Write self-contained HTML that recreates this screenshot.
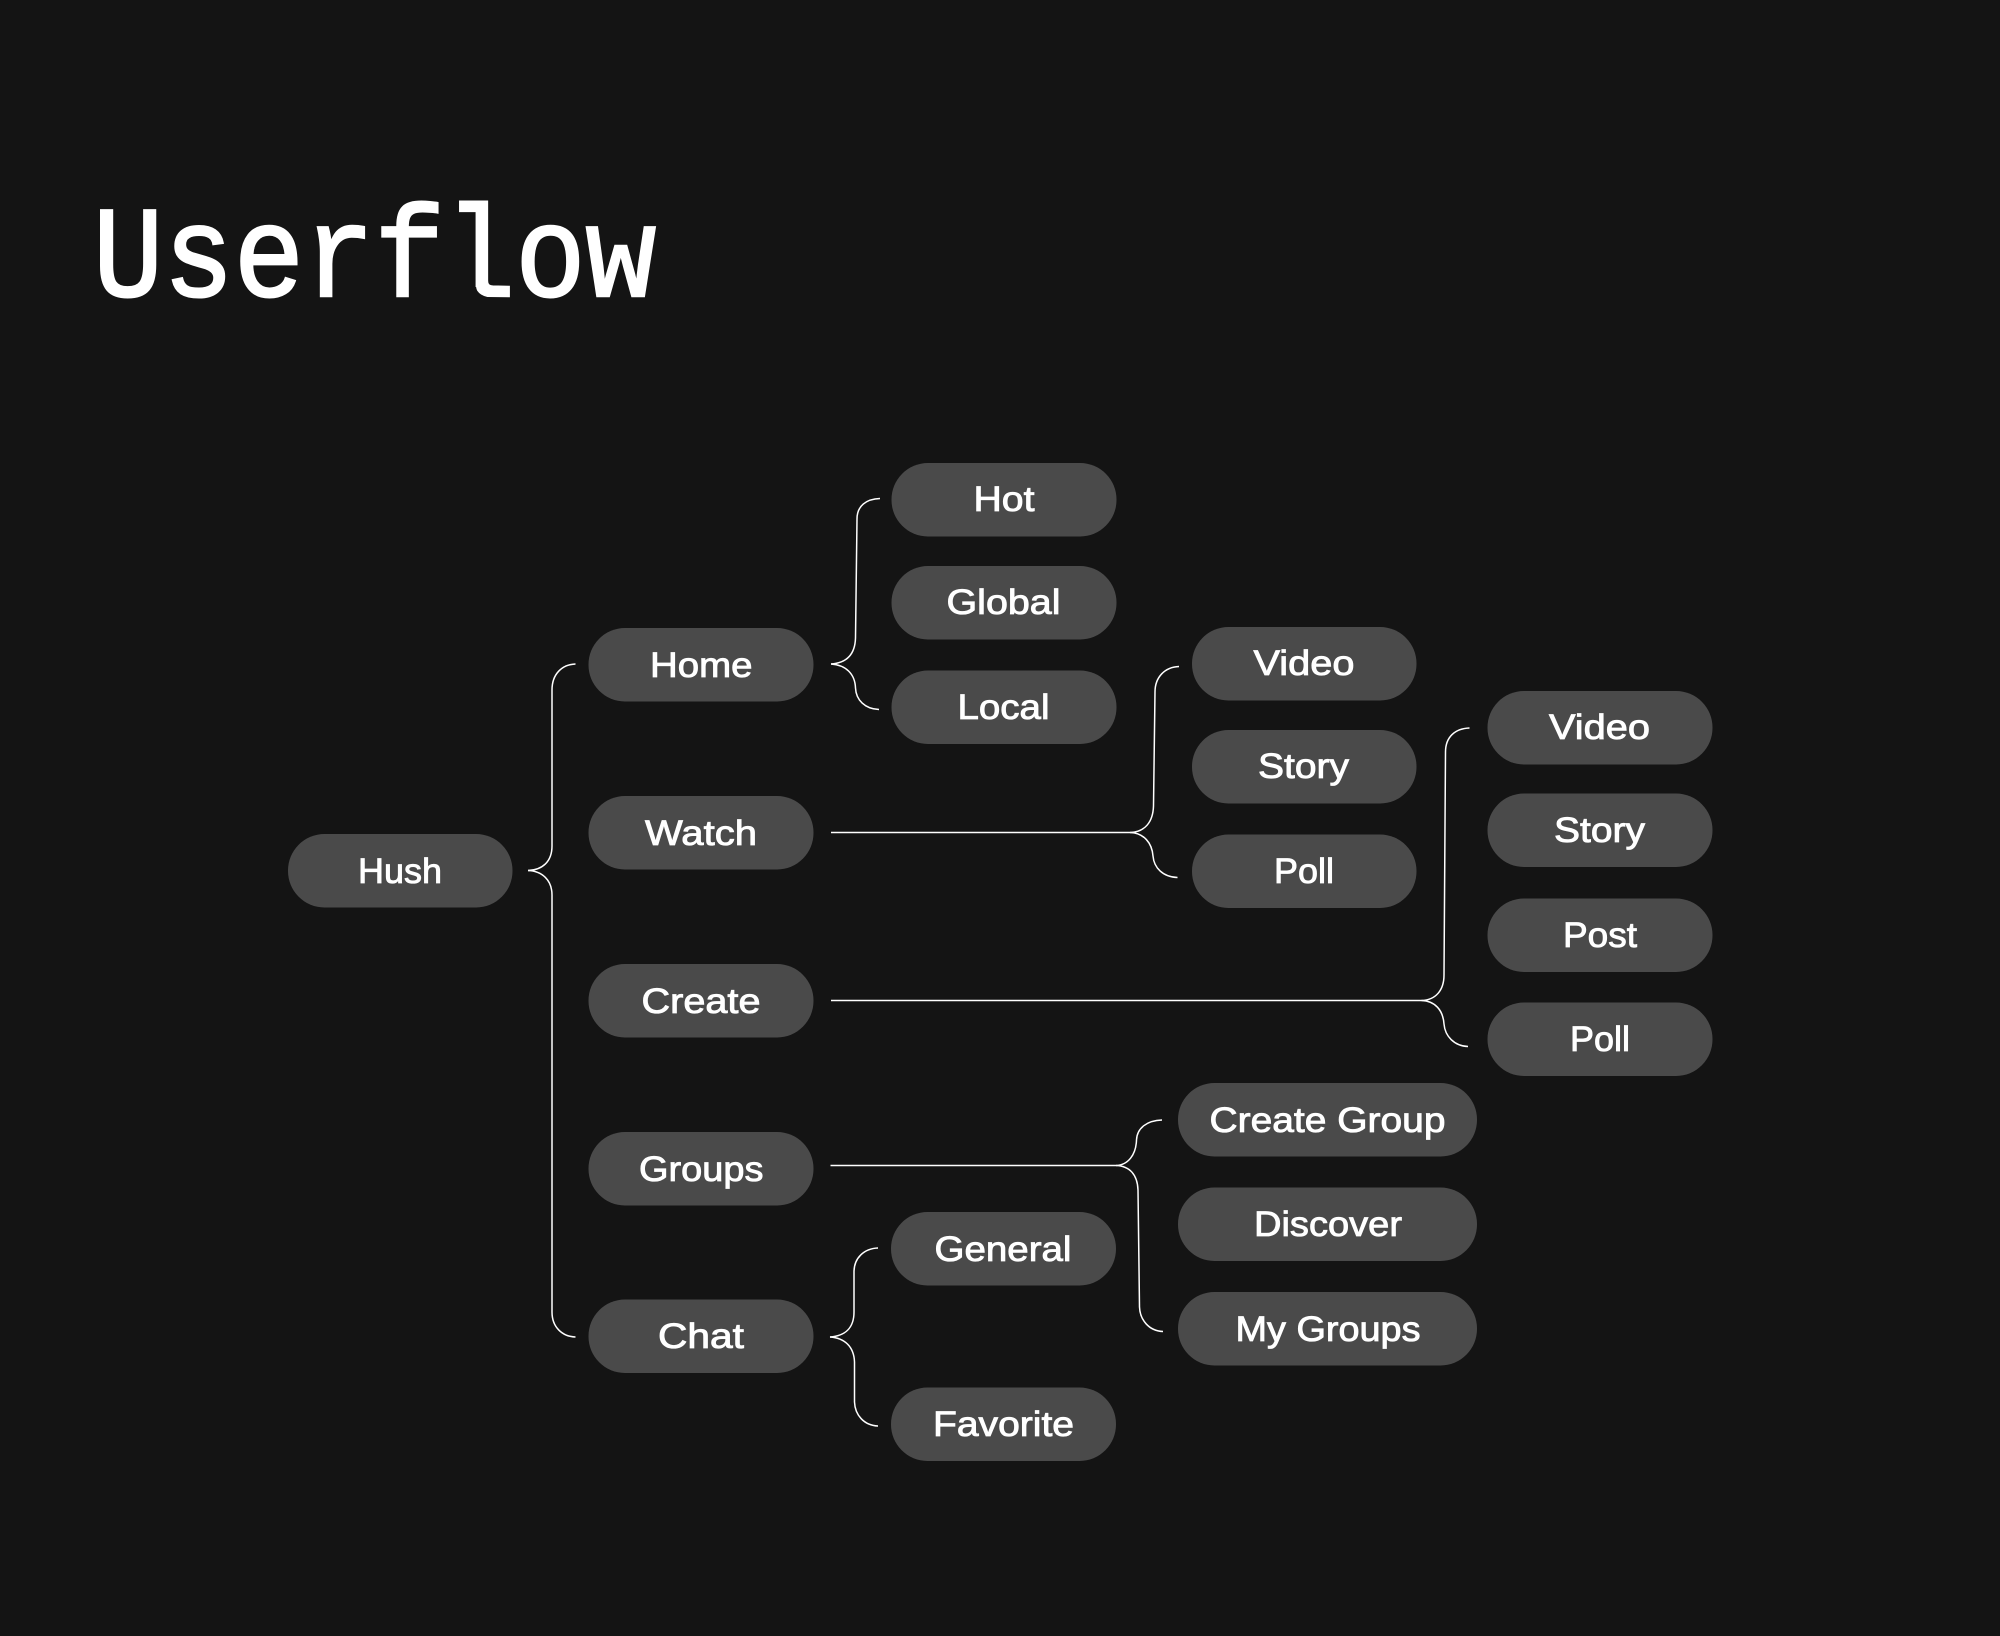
<!DOCTYPE html>
<html><head><meta charset="utf-8"><style>
html,body{margin:0;padding:0;background:#141414;width:2000px;height:1636px;overflow:hidden}
svg{display:block}
.p{fill:#4a4a4a}
.t{font-family:"Liberation Sans",sans-serif;font-size:35px;fill:#fff;stroke:#fff;stroke-width:.85px}
.c{fill:none;stroke:#fff;stroke-width:1.5}
</style></head><body>
<svg width="2000" height="1636" viewBox="0 0 2000 1636" xmlns="http://www.w3.org/2000/svg">
<rect width="2000" height="1636" fill="#141414"/>
<text x="93" y="296" font-family="'Liberation Mono',monospace" font-size="130" fill="#fff" stroke="#fff" stroke-width="2.5" textLength="563" lengthAdjust="spacingAndGlyphs">Userflow</text>

<g>
<rect class="p" x="288" y="834" width="224.500" height="73.500" rx="36.500"/>
<rect class="p" x="588.500" y="628" width="225" height="73.500" rx="36.500"/>
<rect class="p" x="588.500" y="796" width="225" height="73.500" rx="36.500"/>
<rect class="p" x="588.500" y="964" width="225" height="73.500" rx="36.500"/>
<rect class="p" x="588.500" y="1132" width="225" height="73.500" rx="36.500"/>
<rect class="p" x="588.500" y="1299.500" width="225" height="73.500" rx="36.500"/>
<rect class="p" x="891.500" y="463" width="225" height="73.500" rx="36.500"/>
<rect class="p" x="891.500" y="566" width="225" height="73.500" rx="36.500"/>
<rect class="p" x="891.500" y="670.500" width="225" height="73.500" rx="36.500"/>
<rect class="p" x="1192" y="627" width="224.500" height="73.500" rx="36.500"/>
<rect class="p" x="1192" y="730" width="224.500" height="73.500" rx="36.500"/>
<rect class="p" x="1192" y="834.500" width="224.500" height="73.500" rx="36.500"/>
<rect class="p" x="1487.500" y="691" width="225" height="73.500" rx="36.500"/>
<rect class="p" x="1487.500" y="793.500" width="225" height="73.500" rx="36.500"/>
<rect class="p" x="1487.500" y="898.500" width="225" height="73.500" rx="36.500"/>
<rect class="p" x="1487.500" y="1002.500" width="225" height="73.500" rx="36.500"/>
<rect class="p" x="1178" y="1083" width="299" height="73.500" rx="36.500"/>
<rect class="p" x="1178" y="1187.500" width="299" height="73.500" rx="36.500"/>
<rect class="p" x="1178" y="1292" width="299" height="73.500" rx="36.500"/>
<rect class="p" x="891" y="1212" width="225" height="73.500" rx="36.500"/>
<rect class="p" x="891" y="1387.500" width="225" height="73.500" rx="36.500"/>
</g>

<g>
<text class="t" x="358" y="883" textLength="84" lengthAdjust="spacingAndGlyphs">Hush</text>
<text class="t" x="650" y="677" textLength="102.500" lengthAdjust="spacingAndGlyphs">Home</text>
<text class="t" x="645" y="845" textLength="112" lengthAdjust="spacingAndGlyphs">Watch</text>
<text class="t" x="641.500" y="1013" textLength="119" lengthAdjust="spacingAndGlyphs">Create</text>
<text class="t" x="639" y="1181" textLength="124.500" lengthAdjust="spacingAndGlyphs">Groups</text>
<text class="t" x="658" y="1348" textLength="86" lengthAdjust="spacingAndGlyphs">Chat</text>
<text class="t" x="973.500" y="511" textLength="61" lengthAdjust="spacingAndGlyphs">Hot</text>
<text class="t" x="946.500" y="614" textLength="114" lengthAdjust="spacingAndGlyphs">Global</text>
<text class="t" x="957.500" y="719" textLength="92" lengthAdjust="spacingAndGlyphs">Local</text>
<text class="t" x="1253.500" y="675" textLength="101" lengthAdjust="spacingAndGlyphs">Video</text>
<text class="t" x="1258" y="778" textLength="91" lengthAdjust="spacingAndGlyphs">Story</text>
<text class="t" x="1274" y="883" textLength="60" lengthAdjust="spacingAndGlyphs">Poll</text>
<text class="t" x="1549" y="739" textLength="101" lengthAdjust="spacingAndGlyphs">Video</text>
<text class="t" x="1554" y="842" textLength="91" lengthAdjust="spacingAndGlyphs">Story</text>
<text class="t" x="1563" y="947" textLength="74" lengthAdjust="spacingAndGlyphs">Post</text>
<text class="t" x="1570" y="1051" textLength="60" lengthAdjust="spacingAndGlyphs">Poll</text>
<text class="t" x="1209.500" y="1132" textLength="236" lengthAdjust="spacingAndGlyphs">Create Group</text>
<text class="t" x="1254" y="1236" textLength="148" lengthAdjust="spacingAndGlyphs">Discover</text>
<text class="t" x="1235.500" y="1341" textLength="185" lengthAdjust="spacingAndGlyphs">My Groups</text>
<text class="t" x="934.500" y="1261" textLength="137" lengthAdjust="spacingAndGlyphs">General</text>
<text class="t" x="933" y="1436" textLength="141" lengthAdjust="spacingAndGlyphs">Favorite</text>
</g>

<g>
<path class="c" d="M528 870.500C542 870 552 862 552 846V690C552 674 562 664.500 575.500 664"/>
<path class="c" d="M528 870.500C542 871 552 880 552 895V1312C552 1327 562 1336.500 575.500 1337"/>

<path class="c" d="M831 664C846 663 855 655 855.500 638L857 519C857 506 866 499 880 498.500"/>
<path class="c" d="M831 664C846 665 855 674 855.500 688C856 700 865 709 879 709.500"/>

<path class="c" d="M831 832.500H1130C1145 832 1153 822 1153.500 806L1155 692C1155 677 1165 667 1179 666.500"/>
<path class="c" d="M1130 832.500C1144 833 1152 843 1153 856C1154 868 1163 877 1177.500 877.500"/>

<path class="c" d="M831 1000.500H1421.500C1436 1000 1444 990 1444 975L1445.500 752C1445.500 737 1455 728.500 1469.500 728"/>
<path class="c" d="M1421.500 1000.500C1435 1001 1443 1010 1444 1024C1445 1036 1454 1046 1468 1046.500"/>

<path class="c" d="M830.500 1165.500H1116C1128 1165 1136 1155 1136.500 1140C1137 1128 1147 1120.500 1162 1120"/>
<path class="c" d="M1116 1165.500C1130 1166 1137.500 1175 1138 1190L1139.500 1307C1140 1320 1149 1331 1163 1331.500"/>

<path class="c" d="M830 1337C845 1336 854 1328 854 1312V1272C854 1258 864 1248.500 878 1248"/>
<path class="c" d="M830 1337C845 1338 854 1347 854.500 1362V1402C855 1415 864 1425.500 878 1426"/>
</g>
</svg>
</body></html>
